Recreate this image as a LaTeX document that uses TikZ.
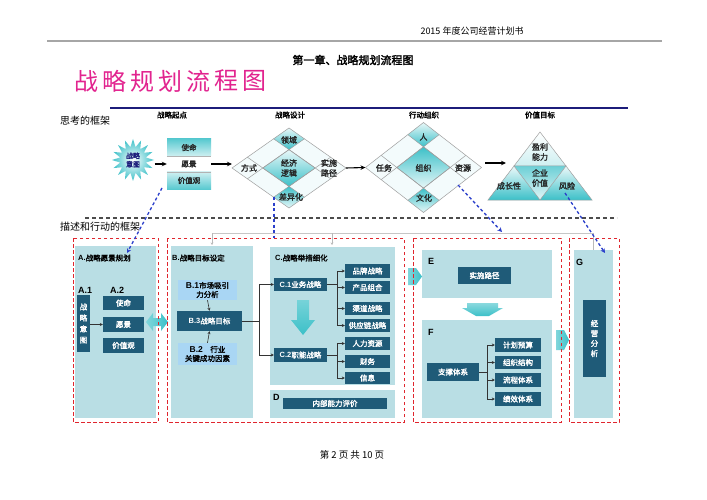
\documentclass[tikz,border=0pt]{standalone}
\usepackage{fontspec}
\setmainfont{Noto Sans CJK SC}[BoldFont={Noto Sans CJK SC},BoldFeatures={FakeBold=2}]
\newfontfamily\lat{Liberation Sans}
\usetikzlibrary{arrows.meta,shapes.geometric}
\definecolor{dk}{HTML}{1F5B78}
\definecolor{pn}{HTML}{B9DEE4}
\definecolor{tq}{HTML}{3CC0C8}
\definecolor{lb}{HTML}{A9D6F4}
\definecolor{rd}{HTML}{E0262E}
\definecolor{bd}{HTML}{2B3FCB}
\definecolor{nv}{HTML}{1C1C7A}
\definecolor{mg}{HTML}{E2248F}
\newcommand\myfs[1]{\fontsize{#1}{#1}\selectfont}
\tikzset{
 dkb/.style 2 args={fill=dk,text=white,font=\bfseries\myfs{7.5},inner sep=0pt,minimum width=#1pt,minimum height=#2pt},
 lbb/.style 2 args={fill=lb,text=black,font=\bfseries\fontsize{7.5}{9}\selectfont,inner sep=0pt,minimum width=#1pt,minimum height=#2pt,align=center},
 stk/.style={minimum width=44pt,minimum height=#1pt,inner sep=0pt,font=\bfseries\myfs{7.5},text=black!85},
 hdc/.style={font=\bfseries\myfs{7.5},inner sep=0pt},
 lbl/.style={font=\bfseries\fontsize{8}{10}\selectfont,align=center,inner sep=0pt,text=black!85},
 sec/.style={anchor=west,font=\bfseries\myfs{7.5},inner sep=0pt},
 tag/.style={anchor=west,font=\lat\bfseries\myfs{9},inner sep=0pt},
 conn/.style={line width=0.6pt,black!80},
 sarr/.style={-{Stealth[length=3pt,width=3pt]}},
 big/.style={line width=1.1pt,-{Stealth[length=5pt,width=4.5pt]}},
 rdash/.style={draw=rd,line width=1pt,dash pattern=on 3.5pt off 2.5pt},
 bdash/.style={draw=bd,line width=1.3pt,dash pattern=on 3pt off 2.5pt},
 dline/.style={draw=gray!75,line width=0.5pt},
 pane/.style={fill=pn},
 tqa/.style={left color=tq!65,right color=tq,draw=none}
}
\newcommand\mydiamond[6]{%
\begin{scope}[shift={(#1,#2)},x=#3pt,y=-#4pt]
 \fill[tq!6] (1,0)--(0,1)--(-1,0)--(0,-1)--cycle;
 \shade[top color=tq,bottom color=tq!12] (0,1)--(.27,.73)--(0,.46)--(-.27,.73)--cycle;
 \shade[top color=tq!12,bottom color=tq] (0,-1)--(.27,-.73)--(0,-.46)--(-.27,-.73)--cycle;
 \shade[top color=#5,bottom color=#6] (.46,0)--(0,.46)--(-.46,0)--(0,-.46)--cycle;
 \draw[dline] (-.73,-.27)--(.27,.73) (.73,-.27)--(-.27,.73) (-.73,.27)--(.27,-.73) (.73,.27)--(-.27,-.73);
 \draw[dline] (.46,0)--(0,.46)--(-.46,0)--(0,-.46)--cycle;
 \draw[dline] (1,0)--(0,1)--(-1,0)--(0,-1)--cycle;
\end{scope}}
\begin{document}
\begin{tikzpicture}[x=1pt,y=-1pt]
\useasboundingbox[fill=white] (0,0) rectangle (707,500);
% header
\node[font=\myfs{9},inner sep=0pt] (hdr) at (472,31) {2015 年度公司经营计划书};
\draw[line width=1.2pt,gray!70] (47,41) -- (662,41);
\node[font=\bfseries\myfs{11}] (ch) at (353,60) {第一章、战略规划流程图};
\foreach \c [count=\i] in {战,略,规,划,流,程,图}
  \node[font=\myfs{24},text=mg,inner sep=0pt] (t\i) at ({86+28*(\i-1)},81) {\c};
\draw[line width=2.5pt,nv] (110,108) -- (628,108);
\node[anchor=west,font=\myfs{10},inner sep=0pt] (sk) at (60,121) {思考的框架};
\node[hdc] (h1) at (172,115) {战略起点};
\node[hdc] (h2) at (290,115) {战略设计};
\node[hdc] (h3) at (424,115) {行动组织};
\node[hdc] (h4) at (540,115) {价值目标};
% starting point
\node[star,star points=16,star point ratio=1.6,minimum size=42pt,inner sep=0pt,shade,inner color=white,outer color=tq,font=\bfseries\fontsize{7}{8.5}\selectfont,text=nv,align=center] (yt) at (133,160) {战略\\意图};
\node[stk=17,top color=tq!85,bottom color=tq!25] (sm) at (189,147.5) {使命};
\node[stk=16,fill=white] (yj) at (189,164) {愿景};
\node[stk=17,top color=tq!25,bottom color=tq!85] (jz) at (189,180.5) {价值观};
\draw[gray!60] (sm.south west) -- (sm.south east) (jz.north west) -- (jz.north east);
\draw[big] (yt.east |- yj.west) -- (yj.west);
% diamonds
\mydiamond{289}{168}{57}{40}{tq!12}{tq}
\mydiamond{423.5}{167.5}{58}{45}{tq}{tq!12}
\coordinate (d1w) at (232,168);
\coordinate (d1e) at (346,168);
\coordinate (d2w) at (365.5,167.5);
\draw[big] (yj.east) -- (yj.east -| d1w);
\draw[big] (d1e) -- (d2w);
\node[lbl] (ly) at (289,140) {领域};
\node[lbl] (fs) at (249,168) {方式};
\node[lbl] (jj) at (289,168) {经济\\逻辑};
\node[lbl] (ss) at (329,168) {实施\\路径};
\node[lbl] (cy) at (291,197) {差异化};
\node[lbl] (ren) at (423.5,137) {人};
\node[lbl] (rw) at (384,168) {任务};
\node[lbl] (zz) at (423.5,168) {组织};
\node[lbl] (zy) at (463,168) {资源};
\node[lbl] (wh) at (424,198) {文化};
% triangle
\coordinate (ta) at (540,132);
\coordinate (tl) at (488,200);
\coordinate (tr) at (592,200);
\coordinate (m1) at (514,166);
\coordinate (m2) at (566,166);
\coordinate (m3) at (540,200);
\shade[top color=white,bottom color=tq!25] (ta)--(m1)--(m2)--cycle;
\shade[top color=tq!75,bottom color=tq!15] (m1)--(m2)--(m3)--cycle;
\shade[top color=tq!10,bottom color=tq] (m1)--(tl)--(m3)--cycle;
\shade[top color=tq!10,bottom color=tq] (m2)--(m3)--(tr)--cycle;
\draw[dline] (ta)--(tl)--(tr)--cycle (m1)--(m2)--(m3)--cycle;
\node[lbl] (yl) at (540,152) {盈利\\能力};
\node[lbl] (qy) at (540,178) {企业\\价值};
\node[lbl] (cz) at (509,186) {成长性};
\node[lbl] (fx) at (567,186) {风险};
\coordinate (d2e) at (485,163);
\coordinate (tri) at (506,163);
\draw[big] (d2e) -- (tri);
% divider
\draw[line width=1.3pt,gray!60!black,dash pattern=on 4pt off 3pt] (85,218) -- (617,218);
\node[anchor=west,font=\myfs{10},inner sep=0pt] (ms) at (60,227) {描述和行动的框架};
% panes
\fill[pane] (75,246) rectangle (156,418);
\fill[pane] (171,246) rectangle (253,418);
\fill[pane] (270,247) rectangle (395,385);
\fill[pane] (270,390) rectangle (395,418);
\fill[pane] (422,250) rectangle (552,298);
\fill[pane] (422,320) rectangle (552,418);
\fill[pane] (574,250) rectangle (613,418);
% faint top links
\draw[gray!45,line width=0.6pt] (212,233) -- (593,233);
\draw[gray!55,line width=0.6pt,-{Stealth[length=2.5pt,width=2.5pt]}] (212,233) -- (212,245);
\draw[gray!55,line width=0.6pt,-{Stealth[length=2.5pt,width=2.5pt]}] (332,233) -- (332,245);
\draw[gray!55,line width=0.6pt] (593,233) -- (593,250);
% A
\node[sec] (sa) at (78,258) {{\lat A.}战略愿景规划};
\node[tag] (a1) at (78,290) {A.1};
\node[tag] (a2) at (110,290) {A.2};
\node[dkb={13}{57},font=\bfseries\fontsize{7.5}{11}\selectfont,align=center] (zy2) at (83.5,323.5) {战\\略\\意\\图};
\node[dkb={41}{14}] (a2a) at (123.5,303) {使命};
\node[dkb={41}{15}] (a2b) at (123.5,324.5) {愿景};
\node[dkb={41}{15}] (a2c) at (123.5,345.5) {价值观};
\draw[conn,sarr] (zy2.east |- a2b.west) -- (a2b.west);
\path[tqa] (146,322)--(153,313)--(153,318)--(161,318)--(161,313)--(168,322)--(161,331)--(161,326)--(153,326)--(153,331)--cycle;
% B
\node[sec] (sb) at (172,258) {{\lat B.}战略目标设定};
\node[lbb={59}{20}] (b1) at (207.5,290) {{\lat\myfs{8.5}B.1}市场吸引\\力分析};
\node[dkb={65}{20}] (b3) at (209.5,321) {{\lat B.3}战略目标};
\node[lbb={59}{22}] (b2) at (207.5,354) {{\lat\myfs{8.5}B.2}\quad 行业\\关键成功因素};
\draw[conn,sarr] (b1.south) -- (b3.north);
\draw[conn,sarr] (b2.north) -- (b3.south);
% C
\node[sec] (sc) at (275,258) {{\lat C.}战略举措细化};
\node[dkb={53}{13}] (c1) at (300.5,284.5) {{\lat C.1}业务战略};
\node[dkb={53}{14}] (c2) at (300.5,355) {{\lat C.2}职能战略};
\coordinate (bj) at (259,321);
\draw[conn] (b3.east) -- (bj);
\draw[conn,sarr] (bj) |- (c1.west);
\draw[conn,sarr] (bj) |- (c2.west);
\shade[top color=tq!70,bottom color=tq] (297,300)--(309,300)--(309,320)--(315,320)--(303,335)--(291,320)--(297,320)--cycle;
\node[dkb={45}{14}] (p1) at (367.5,271) {品牌战略};
\node[dkb={45}{13}] (p2) at (367.5,287.5) {产品组合};
\node[dkb={45}{13}] (p3) at (367.5,308.5) {渠道战略};
\node[dkb={45}{13}] (p4) at (367.5,325.5) {供应链战略};
\node[dkb={45}{13}] (p5) at (367.5,343.5) {人力资源};
\node[dkb={45}{13}] (p6) at (367.5,361.5) {财务};
\node[dkb={45}{12}] (p7) at (367.5,378) {信息};
\coordinate (cj1) at (337,284.5);
\coordinate (cj2) at (337,355);
\draw[conn] (c1.east) -- (cj1);
\draw[conn] (cj1 |- p1.west) -- (cj1 |- p4.west);
\foreach \k in {1,...,4} \draw[conn,sarr] (cj1 |- p\k.west) -- (p\k.west);
\draw[conn] (c2.east) -- (cj2);
\draw[conn] (cj2 |- p5.west) -- (cj2 |- p7.west);
\foreach \k in {5,6,7} \draw[conn,sarr] (cj2 |- p\k.west) -- (p\k.west);
% D
\node[tag] (dd) at (273,397) {D};
\node[dkb={104}{11}] (nb) at (335,403.5) {内部能力评价};
% E
\path[tqa] (408,268)--(416,268)--(422,276.5)--(416,285)--(408,285)--cycle;
\node[tag] (ee) at (428,261) {E};
\node[dkb={53}{17}] (ss2) at (484.5,275.5) {实施路径};
\shade[top color=tq!60,bottom color=tq] (467,303)--(498,303)--(498,308)--(503,308)--(489,316)--(476,316)--(462,308)--(467,308)--cycle;
% F
\node[tag] (ff) at (428,332) {F};
\node[dkb={52}{18}] (zc) at (453,372) {支撑体系};
\node[dkb={46}{14}] (f1) at (518,345) {计划预算};
\node[dkb={46}{13}] (f2) at (518,362.5) {组织结构};
\node[dkb={46}{14}] (f3) at (518,380) {流程体系};
\node[dkb={46}{14}] (f4) at (518,399) {绩效体系};
\coordinate (fj) at (487,372);
\draw[conn] (zc.east) -- (fj);
\draw[conn] (fj |- f1.west) -- (fj |- f4.west);
\foreach \k in {1,...,4} \draw[conn,sarr] (fj |- f\k.west) -- (f\k.west);
% G
\path[tqa] (556,330)--(564,330)--(569,340)--(564,350)--(556,350)--cycle;
\node[tag] (gg) at (576,262) {G};
\node[dkb={23}{77},font=\bfseries\fontsize{7.5}{10}\selectfont,align=center] (jy) at (594.5,338.5) {经\\营\\分\\析};
% red dashed frames
\draw[rdash] (73,238) rectangle (158,422);
\draw[rdash] (167,238) rectangle (404,422);
\draw[rdash] (413,238) rectangle (561,422);
\draw[rdash] (569,238) rectangle (619,422);
% blue dashed links
\coordinate (u1) at (162,188);
\coordinate (v1) at (127,253);
\coordinate (u2) at (274,197);
\coordinate (v2) at (274,238);
\coordinate (u3) at (458,185);
\coordinate (v3) at (502,232);
\coordinate (u4) at (565,193);
\coordinate (v4) at (605,253);
\draw[bdash,-{Stealth[length=4.5pt,width=4.5pt]},bd] (u1) -- (v1);
\draw[bdash] (u2) -- (v2);
\draw[bdash,-{Stealth[length=4.5pt,width=4.5pt]},bd] (u3) -- (v3);
\draw[bdash,-{Stealth[length=4.5pt,width=4.5pt]},bd] (u4) -- (v4);
% footer
\node[font=\myfs{9.5},inner sep=0pt] (ft) at (352,455) {第 2 页 共 10 页};
\end{tikzpicture}
\end{document}
